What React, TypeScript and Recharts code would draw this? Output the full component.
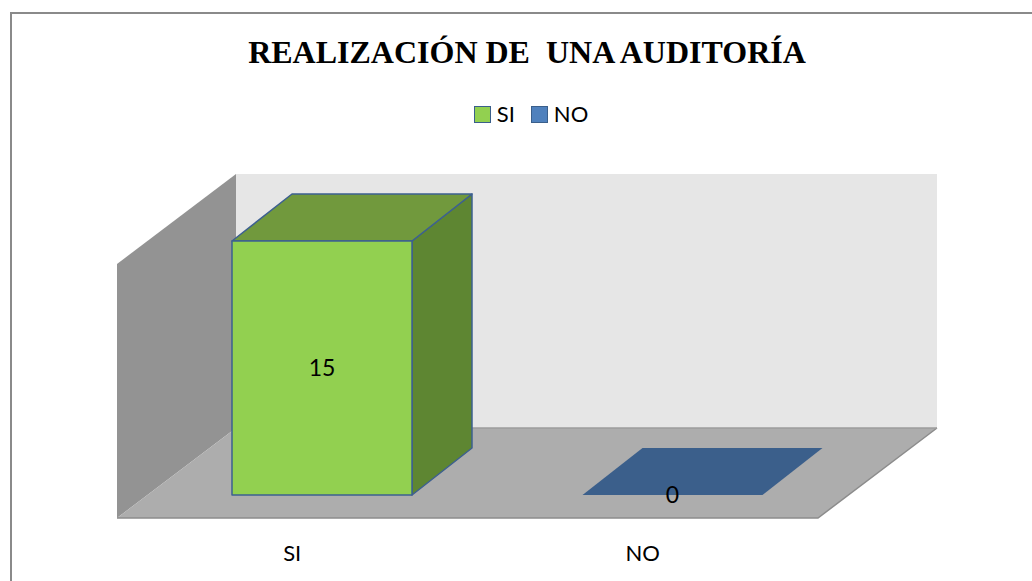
import { BarChart, Bar, XAxis, YAxis, Cell, LabelList, Legend, ReferenceArea } from "recharts";

const categories = ["SI", "NO"];
const values = [15, 0];
const yDomain = [0, 15];

// Excel-style shading for each category: legend/front, top face, side face
const frontColors = ["#92d050", "#4f81bd"];
const topColors = ["#71993d", "#3b5f8b"];
const sideColors = ["#5e8632", "#2f4c70"];

const data = categories.map((name, i) => ({ name, value: values[i] }));

// 3D depth offsets (px)
const BAR_DX = 60;
const BAR_DY = 47;
const WALL_DX = 89;
const WALL_DY = 67;
const FRONT_DX = 30;
const FRONT_DY = 23;

const FONT = "Lato, 'Open Sans', sans-serif";

const pts = (list: number[][]) => list.map((p) => p.join(",")).join(" ");

function Walls(props: any) {
  const { x, y, width, height } = props;
  const b = y + height;
  const r = x + width;
  return (
    <g>
      <rect x={x + WALL_DX} y={y - WALL_DY} width={width} height={height} fill="#e6e6e6" />
      <polygon
        points={pts([
          [x - FRONT_DX, y + FRONT_DY],
          [x + WALL_DX, y - WALL_DY],
          [x + WALL_DX, b - WALL_DY],
          [x - FRONT_DX, b + FRONT_DY],
        ])}
        fill="#939393"
      />
      <polygon
        points={pts([
          [x - FRONT_DX, b + FRONT_DY],
          [r - FRONT_DX, b + FRONT_DY],
          [r + WALL_DX, b - WALL_DY],
          [x + WALL_DX, b - WALL_DY],
        ])}
        fill="#adadad"
      />
      <polyline
        points={pts([
          [x - FRONT_DX, b + FRONT_DY],
          [r - FRONT_DX, b + FRONT_DY],
          [r + WALL_DX, b - WALL_DY],
        ])}
        fill="none"
        stroke="#8c8c8c"
        strokeWidth={1.5}
      />
      <line x1={x + WALL_DX} y1={b - WALL_DY} x2={r + WALL_DX} y2={b - WALL_DY} stroke="#9c9c9c" strokeWidth={1.5} />
    </g>
  );
}

function Box3D(props: any) {
  const { x, y, width, height, index } = props;
  const w = width;
  const h = Math.max(height, 0);
  const top = pts([
    [x, y],
    [x + BAR_DX, y - BAR_DY],
    [x + w + BAR_DX, y - BAR_DY],
    [x + w, y],
  ]);
  if (h < 0.5) {
    return <polygon points={top} fill={topColors[index]} />;
  }
  const stroke = "#3d6090";
  return (
    <g stroke={stroke} strokeWidth={1.5} strokeLinejoin="round">
      <polygon
        points={pts([
          [x + w, y],
          [x + w + BAR_DX, y - BAR_DY],
          [x + w + BAR_DX, y + h - BAR_DY],
          [x + w, y + h],
        ])}
        fill={sideColors[index]}
      />
      <polygon points={top} fill={topColors[index]} />
      <rect x={x} y={y} width={w} height={h} fill={frontColors[index]} />
    </g>
  );
}

function AxisTick(props: any) {
  const { x, y, payload } = props;
  return (
    <text x={x - FRONT_DX} y={y + 66} textAnchor="middle" fontFamily={FONT} fontSize={22} fill="#000">
      {payload.value}
    </text>
  );
}

function LegendContent() {
  return (
    <div
      style={{
        display: "flex",
        justifyContent: "center",
        alignItems: "center",
        gap: 16,
        paddingLeft: 30,
        fontFamily: FONT,
        fontSize: 22,
        lineHeight: "24px",
        color: "#000",
      }}
    >
      {categories.map((c, i) => (
        <div key={c} style={{ display: "flex", alignItems: "center", gap: 6 }}>
          <span
            style={{
              width: 15,
              height: 15,
              display: "inline-block",
              background: frontColors[i],
              border: "1px solid #3a5f8b",
            }}
          />
          <span>{c}</span>
        </div>
      ))}
    </div>
  );
}

export default function App() {
  return (
    <div
      style={{
        position: "absolute",
        left: 0,
        top: 0,
        width: 1032,
        height: 581,
        overflow: "hidden",
        background: "#fff",
      }}
    >
      <div
        style={{
          position: "absolute",
          left: 10,
          top: 12,
          width: 1060,
          height: 620,
          border: "2px solid #8a8a8a",
        }}
      />
      <div
        style={{
          position: "absolute",
          left: 0,
          top: 36,
          width: 1054,
          textAlign: "center",
          fontFamily: "'Liberation Serif', 'Times New Roman', serif",
          fontWeight: "bold",
          fontSize: 32,
          lineHeight: "32px",
          whiteSpace: "pre",
          color: "#000",
        }}
      >
        REALIZACIÓN DE  UNA AUDITORÍA
      </div>
      <BarChart
        width={1032}
        height={581}
        data={data}
        margin={{ top: 241, right: 184, bottom: 56, left: 147 }}
      >
        <XAxis
          dataKey="name"
          axisLine={false}
          tickLine={false}
          tickSize={0}
          tickMargin={0}
          height={30}
          tick={AxisTick}
        />
        <YAxis hide domain={yDomain} />
        <ReferenceArea y1={yDomain[0]} y2={yDomain[1]} shape={Walls} fill="none" />
        <Legend
          layout="horizontal"
          verticalAlign="middle"
          align="center"
          content={LegendContent}
          wrapperStyle={{ top: 102, left: 0, width: 1032, height: 24 }}
        />
        <Bar dataKey="value" barSize={180} shape={Box3D} isAnimationActive={false}>
          {data.map((d, i) => (
            <Cell key={d.name} fill={frontColors[i]} />
          ))}
          <LabelList dataKey="value" position="center" fontFamily={FONT} fontSize={23} fill="#000" />
        </Bar>
      </BarChart>
    </div>
  );
}
